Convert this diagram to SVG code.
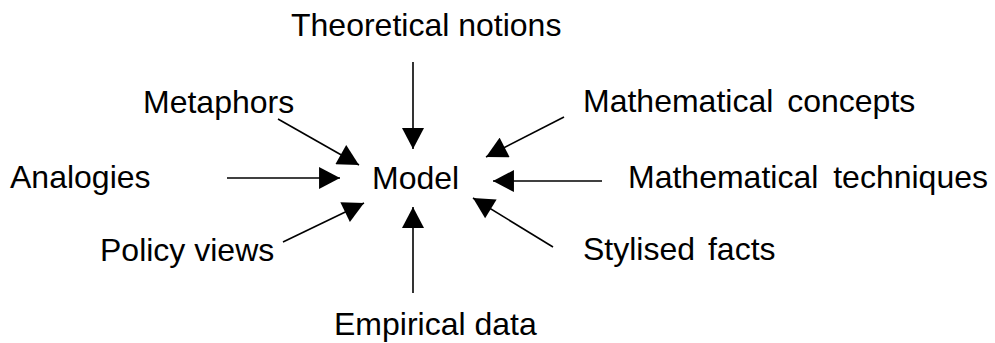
<svg xmlns="http://www.w3.org/2000/svg" width="995" height="343" viewBox="0 0 995 343">
<style>
text{font-family:"Liberation Sans",Arial,sans-serif;font-size:32px;fill:#000}
.c line{stroke:#000;stroke-width:1.6;fill:none;marker-end:url(#ah)}
</style>
<defs>
<marker id="ah" markerUnits="userSpaceOnUse" markerWidth="22" markerHeight="22" refX="20" refY="10.5" orient="auto" viewBox="0 0 20 21">
<path d="M0,0 L20,10.5 L0,21 Z" fill="#000"/>
</marker>
</defs>
<rect width="995" height="343" fill="#fff"/>
<g id="model"><text x="372" y="189">Model</text></g>
<g id="theoretical"><text x="291" y="36">Theoretical notions</text></g>
<g id="metaphors"><text x="143" y="113">Metaphors</text></g>
<g id="analogies"><text x="10" y="188">Analogies</text></g>
<g id="policy"><text x="100" y="261">Policy views</text></g>
<g id="empirical"><text x="334" y="335">Empirical data</text></g>
<g id="mathconcepts"><text x="583" y="112" word-spacing="5">Mathematical concepts</text></g>
<g id="mathtech"><text x="628" y="188" word-spacing="6">Mathematical techniques</text></g>
<g id="stylised"><text x="583" y="260" word-spacing="4">Stylised facts</text></g>
<g class="c" id="connectors">
<line x1="413" y1="62" x2="413" y2="149"/>
<line x1="278" y1="119" x2="359" y2="165"/>
<line x1="227" y1="178" x2="340" y2="178"/>
<line x1="283" y1="242" x2="364" y2="203"/>
<line x1="413" y1="293" x2="413" y2="207"/>
<line x1="564" y1="117" x2="486" y2="157"/>
<line x1="602" y1="181" x2="493" y2="181"/>
<line x1="553" y1="247" x2="473" y2="198"/>
</g>
</svg>
